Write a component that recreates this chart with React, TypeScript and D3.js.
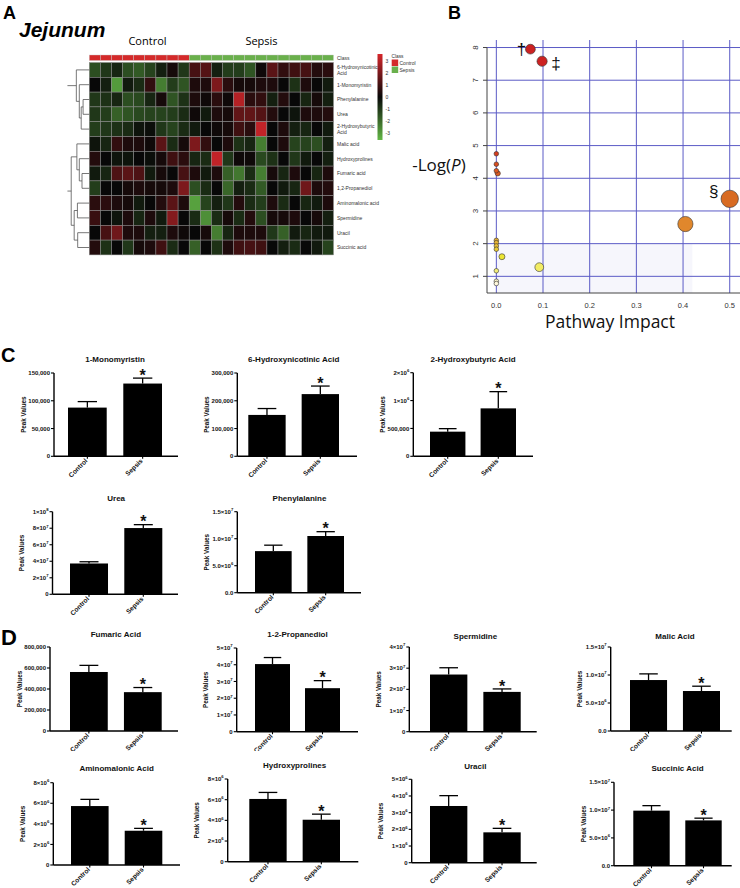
import React from "react";
import * as d3 from "d3";

const SANS = "'Liberation Sans', Arial, Helvetica, sans-serif";
const HUMAN = "'Open Sans', 'Noto Sans', sans-serif";

// ---------------- Panel A data ----------------
const heatRowLabels = [
  "6-Hydroxynicotinic\nAcid", "1-Monomyristin", "Phenylalanine", "Urea", "2-Hydroxybutyric\nAcid",
  "Malic acid", "Hydroxyprolines", "Fumaric acid", "1,2-Propanediol", "Aminomalonic acid",
  "Spermidine", "Uracil", "Succinic acid",
];
const heatClasses = [
  "Control", "Control", "Control", "Control", "Control", "Control", "Control", "Control", "Control",
  "Sepsis", "Sepsis", "Sepsis", "Sepsis", "Sepsis", "Sepsis", "Sepsis", "Sepsis", "Sepsis", "Sepsis", "Sepsis", "Sepsis", "Sepsis",
];
const heatValues: number[][] = [
  [-1.2, -0.8, -0.5, -1.2, -1.4, -1.0, -0.4, 0.2, -0.8, 0.9, 1.1, -0.4, -0.9, -0.9, -1.3, 0.1, 1.2, 0.6, 0.8, 0.9, 0.4, 0.5],
  [0, -0.4, -2.5, -0.3, -0.6, 0.6, -2.0, -0.9, -1.3, 0.3, 0.3, 1.7, 0.5, 0.2, 0.2, 0.3, 0.3, 0, -0.7, 0.3, 0, -0.3],
  [-0.8, -0.7, -0.5, -1.2, -1.1, -0.5, 0.2, -1.3, -0.7, 0.3, 0.1, 0.5, 0.1, 2.5, 0.5, 0.6, -0.4, 0.4, 0, -0.5, 0.2, -0.4],
  [-0.8, -0.9, -1.5, -1.3, -1.1, -1.0, -1.0, -0.9, -0.6, 0.1, -0.3, 0.3, 0.2, 1.3, 1.3, 1.1, 0.4, 0, -0.2, 0.3, 0.3, 0.4],
  [-0.9, -0.8, -0.7, -0.6, -0.2, -0.1, -0.8, -1.0, -0.6, -0.3, 0, 0.1, 0.2, 0.8, 0.5, 2.7, 0, 0.3, -0.4, -0.5, 0, -0.3],
  [-0.2, -0.5, 0.6, 0.3, 0.3, 0.1, 1.2, -0.6, 0.2, 1.7, 0.6, 0, 0.3, -0.7, -0.5, -2.0, 0, 0.3, -1.0, -1.0, -1.2, -0.4],
  [0.4, 0, -0.2, -0.2, 0, -0.1, 0.2, 0.8, 0.5, -0.5, -0.6, 2.7, -0.8, 0.1, 0.1, -1.1, -0.7, 0, -0.8, -0.3, 0, -0.4],
  [-0.3, -0.5, 1.0, 1.2, 1.0, -0.3, 0.2, 0, 0.9, 0.3, -0.3, 0.3, -1.5, -1.9, -0.6, -2.0, 0.2, -0.5, 0.3, 0, -0.5, 0.3],
  [-0.9, 0, 0, 0.2, 0.3, 0.2, 0.2, 0.3, 1.7, -1.2, -0.6, 0, -1.6, -0.4, -0.6, -1.4, 0, -0.3, -0.5, 1.5, 0.3, 0.4],
  [0.5, 0.5, 0.3, 0.2, -0.3, 0, 0.4, 1.2, 0.3, -2.6, -1.0, -0.4, -0.8, 0.4, -0.6, -0.9, 0.3, -0.6, 0, -0.5, -0.3, 0.3],
  [0.7, 0, -0.2, 0.3, -0.5, 0.3, -0.3, 1.8, 0, -0.6, -2.3, -0.6, 0.2, -0.6, 0.4, -1.2, 0.2, 0.2, 0.3, 0, 0.2, -0.4],
  [0, 0.9, 1.5, 0.3, 0.3, -0.4, -0.4, 0.3, 0.1, 0, 0.2, -2.0, -0.5, 0.3, 0.3, 0.3, -0.8, -1.5, -0.3, -0.5, -0.3, -0.3],
  [0.4, -0.7, 0, -0.8, 0.2, 0.3, 0.8, -0.6, 0, -1.5, 0, -0.7, 0.3, 0.8, 0.9, 0.8, 0, -0.4, -0.6, 0, -0.3, -1.0],
];
const legendTicks = [3, 2, 1, 0, -1, -2, -3];
type DNode = number | { h: number; c: [DNode, DNode] };
const dendroTop: DNode = { h: 0.48, c: [0, { h: 0.37, c: [1, { h: 0.3, c: [{ h: 0.23, c: [2, 3] }, 4] }] }] };
const dendroBottom: DNode = {
  h: 0.67,
  c: [
    { h: 0.46, c: [5, { h: 0.37, c: [6, { h: 0.27, c: [7, 8] }] }] },
    { h: 0.56, c: [{ h: 0.44, c: [9, 10] }, { h: 0.43, c: [11, 12] }] },
  ],
};
const dendroRootH = 0.81;

// ---------------- Panel B data ----------------
const pathImpact = [0.073, 0.098, 0.0, 0.0, 0.0, 0.003, 0.5, 0.405, 0.0, 0.0, 0.0, 0.0, 0.012, 0.092, 0.0, 0.0, 0.0];
const pathLogP = [7.95, 7.58, 4.75, 4.43, 4.23, 4.15, 3.37, 2.6, 2.1, 2.03, 1.93, 1.83, 1.6, 1.28, 1.17, 0.85, 0.78];
const pathSize = [4.9, 5.1, 2.3, 2.3, 2.3, 2.6, 8.7, 7.6, 2.3, 2.3, 2.3, 2.3, 3.0, 4.4, 2.3, 2.3, 2.3];
const pathMarkIdx = [0, 1, 6];
const pathMarkSym = ["\u2020", "\u2021", "\u00a7"];
const bXTicks = [0, 0.1, 0.2, 0.3, 0.4, 0.5];
const bYTicks = [1, 2, 3, 4, 5, 6, 7, 8];

// ---------------- Panels C/D data ----------------
const groups = ["Control", "Sepsis"];
const barTitles = [
  "1-Monomyristin", "6-Hydroxynicotinic Acid", "2-Hydroxybutyric Acid", "Urea", "Phenylalanine",
  "Fumaric Acid", "1-2-Propanediol", "Spermidine", "Malic Acid",
  "Aminomalonic Acid", "Hydroxyprolines", "Uracil", "Succinic Acid",
];
const controlMean = [87700, 149000, 442000, 37.3e6, 7.7e6, 562000, 4.04e7, 2.7e7, 9.1e6, 5.73e6, 6.07e6, 3.4e6, 9.9e6];
const controlSem = [10800, 23000, 54000, 2.1e6, 1.1e6, 63000, 0.39e7, 0.32e7, 1.1e6, 0.65e6, 0.63e6, 0.62e6, 0.9e6];
const sepsisMean = [131000, 224000, 860000, 80.2e6, 10.5e6, 370000, 2.6e7, 1.88e7, 7.14e6, 3.33e6, 4.06e6, 1.82e6, 8.15e6];
const sepsisSem = [9800, 29000, 300000, 4.1e6, 0.8e6, 44000, 0.45e7, 0.14e7, 0.86e6, 0.23e6, 0.54e6, 0.24e6, 0.4e6];
const barYMax = [150000, 300000, 1.5e6, 1e8, 1.5e7, 800000, 5e7, 4e7, 1.5e7, 8e6, 8e6, 5e6, 1.5e7];
const barTickValues: number[][] = [
  [0, 50000, 100000, 150000],
  [0, 100000, 200000, 300000],
  [0, 500000, 1e6, 1.5e6],
  [0, 2e7, 4e7, 6e7, 8e7, 1e8],
  [0, 5e6, 1e7, 1.5e7],
  [0, 200000, 400000, 600000, 800000],
  [0, 1e7, 2e7, 3e7, 4e7, 5e7],
  [0, 1e7, 2e7, 3e7, 4e7],
  [0, 5e6, 1e7, 1.5e7],
  [0, 2e6, 4e6, 6e6, 8e6],
  [0, 2e6, 4e6, 6e6, 8e6],
  [0, 1e6, 2e6, 3e6, 4e6, 5e6],
  [0, 5e6, 1e7, 1.5e7],
];
const barTickLabels: string[][] = [
  ["0", "50,000", "100,000", "150,000"],
  ["0", "100,000", "200,000", "300,000"],
  ["0", "500,000", "1\u00d710^6", "2\u00d710^6"],
  ["0", "2\u00d710^7", "4\u00d710^7", "6\u00d710^7", "8\u00d710^7", "1\u00d710^8"],
  ["0.0", "5.0\u00d710^6", "1.0\u00d710^7", "1.5\u00d710^7"],
  ["0", "200,000", "400,000", "600,000", "800,000"],
  ["0", "1\u00d710^7", "2\u00d710^7", "3\u00d710^7", "4\u00d710^7", "5\u00d710^7"],
  ["0", "1\u00d710^7", "2\u00d710^7", "3\u00d710^7", "4\u00d710^7"],
  ["0.0", "5.0\u00d710^6", "1.0\u00d710^7", "1.5\u00d710^7"],
  ["0", "2\u00d710^6", "4\u00d710^6", "6\u00d710^6", "8\u00d710^6"],
  ["0", "2\u00d710^6", "4\u00d710^6", "6\u00d710^6", "8\u00d710^6"],
  ["0", "1\u00d710^6", "2\u00d710^6", "3\u00d710^6", "4\u00d710^6", "5\u00d710^6"],
  ["0.0", "5.0\u00d710^6", "1.0\u00d710^7", "1.5\u00d710^7"],
];

// layout (pixel frames for each small chart)
const barLayouts = [
  { ax: 54, top: 373, bot: 456.3, xEnd: 178, bl: 68, br: 162, ty: 359, clip: false },
  { ax: 237.3, top: 373, bot: 456.3, xEnd: 357, bl: 248.3, br: 339, ty: 359, clip: false },
  { ax: 413.3, top: 372.7, bot: 456.3, xEnd: 533, bl: 430, br: 516, ty: 359, clip: false },
  { ax: 52.5, top: 511.7, bot: 594.3, xEnd: 178, bl: 70, br: 162.3, ty: 497.7, clip: false },
  { ax: 237.3, top: 511.7, bot: 592.7, xEnd: 361, bl: 255, br: 344, ty: 497.7, clip: false },
  { ax: 50, top: 647, bot: 731, xEnd: 178, bl: 70, br: 161.7, ty: 634, clip: true },
  { ax: 236.7, top: 648, bot: 731.7, xEnd: 358, bl: 255, br: 340, ty: 634, clip: true },
  { ax: 409.3, top: 647, bot: 731.7, xEnd: 536.7, bl: 430, br: 520.7, ty: 635.7, clip: true },
  { ax: 610.7, top: 647, bot: 731, xEnd: 731.7, bl: 630, br: 720, ty: 635.7, clip: true },
  { ax: 53.3, top: 782.7, bot: 865, xEnd: 180, bl: 71, br: 162.3, ty: 768.3, clip: false },
  { ax: 227.7, top: 779, bot: 861.7, xEnd: 358.3, bl: 249.3, br: 340, ty: 765, clip: false },
  { ax: 411.7, top: 779.3, bot: 862.7, xEnd: 536.7, bl: 430, br: 520.7, ty: 766, clip: false },
  { ax: 614, top: 782.3, bot: 865.7, xEnd: 731.7, bl: 633.3, br: 721.7, ty: 768.3, clip: false },
];

// ---------------- helpers ----------------
function SupText(props: { x: number; y: number; label: string; fs: number; anchor?: string; weight?: string; fill?: string }) {
  const { x, y, label, fs, anchor = "end", weight = "bold", fill = "#111" } = props;
  const i = label.indexOf("^");
  const main = i < 0 ? label : label.slice(0, i);
  const sup = i < 0 ? "" : label.slice(i + 1);
  return (
    <text x={x} y={y} fontSize={fs} textAnchor={anchor as any} fontWeight={weight} fill={fill} fontFamily={SANS}>
      {main}
      {sup && (
        <tspan dy={-fs * 0.45} fontSize={fs * 0.7}>
          {sup}
        </tspan>
      )}
    </text>
  );
}

// ---------------- Panel A ----------------
function PanelA() {
  const nCols = heatClasses.length;
  const nRows = heatRowLabels.length;
  const cellsLeft = 89.3;
  const cellsTop = 62.5;
  const xs = d3.scaleBand<number>().domain(d3.range(nCols)).range([cellsLeft, cellsLeft + nCols * 11.1]);
  const ys = d3.scaleBand<number>().domain(d3.range(nRows)).range([cellsTop, cellsTop + nRows * 14.8]);
  const color = d3.scaleLinear<string>().domain([-3, 0, 3]).range(["#63b846", "#080808", "#d6262b"]);
  const classColor = (c: string) => (c === "Control" ? "#d42a2a" : "#6ab04c");
  const right = cellsLeft + nCols * 11.1;
  const dx = d3.scaleLinear().domain([0, 1]).range([cellsLeft, cellsLeft - 27]);

  const lines: { x1: number; y1: number; x2: number; y2: number }[] = [];
  const layout = (n: DNode): { x: number; y: number } => {
    if (typeof n === "number") return { x: cellsLeft, y: (ys(n) as number) + ys.bandwidth() / 2 };
    const a = layout(n.c[0]);
    const b = layout(n.c[1]);
    const x = dx(n.h);
    lines.push({ x1: x, y1: a.y, x2: x, y2: b.y });
    lines.push({ x1: x, y1: a.y, x2: a.x, y2: a.y });
    lines.push({ x1: x, y1: b.y, x2: b.x, y2: b.y });
    return { x, y: (a.y + b.y) / 2 };
  };
  const tTop = layout(dendroTop);
  const tBot = layout(dendroBottom);
  lines.push({ x1: dx(dendroRootH), y1: tTop.y, x2: tTop.x, y2: tTop.y });
  lines.push({ x1: dx(dendroRootH), y1: tBot.y, x2: tBot.x, y2: tBot.y });

  const legendY = d3.scaleLinear().domain([3, -3]).range([61, 133.3]);

  return (
    <g>
      <text x={3} y={19} fontSize={18} fontWeight="bold" fontFamily={SANS}>A</text>
      <text x={19} y={37} fontSize={21} fontWeight="bold" fontStyle="italic" fontFamily={SANS}>Jejunum</text>
      <text x={147.5} y={45} fontSize={11} textAnchor="middle" fontFamily={HUMAN}>Control</text>
      <text x={261.5} y={45} fontSize={11} textAnchor="middle" fontFamily={HUMAN}>Sepsis</text>
      {heatClasses.map((c, j) => (
        <rect key={"cl" + j} x={xs(j)} y={55} width={xs.bandwidth()} height={5.5} fill={classColor(c)} stroke="#c8c8c8" strokeWidth={0.4} />
      ))}
      {heatValues.map((row, i) =>
        row.map((v, j) => (
          <rect key={i + "-" + j} x={xs(j)} y={ys(i)} width={xs.bandwidth()} height={ys.bandwidth()} fill={color(v)} stroke="#8d8d8d" strokeWidth={0.5} />
        ))
      )}
      {lines.map((l, k) => (
        <line key={"d" + k} {...l} stroke="#555" strokeWidth={0.8} />
      ))}
      <text x={right + 3.5} y={59.5} fontSize={5} fontFamily={SANS} fill="#333">Class</text>
      {heatRowLabels.map((lab, i) => {
        const parts = lab.split("\n");
        const cy = (ys(i) as number) + ys.bandwidth() / 2;
        return (
          <text key={"rl" + i} x={right + 3.5} y={cy + 1.8 - (parts.length - 1) * 3.2} fontSize={5} fontFamily={SANS} fill="#333">
            {parts.map((p, k) => (
              <tspan key={k} x={right + 3.5} dy={k === 0 ? 0 : 6.4}>{p}</tspan>
            ))}
          </text>
        );
      })}
      <defs>
        <linearGradient id="hmGrad" x1="0" y1="0" x2="0" y2="1">
          <stop offset="0%" stopColor={color(3)} />
          <stop offset="50%" stopColor={color(0)} />
          <stop offset="100%" stopColor={color(-3)} />
        </linearGradient>
      </defs>
      <rect x={377.5} y={54} width={5} height={86} fill="url(#hmGrad)" />
      {legendTicks.map((t) => (
        <text key={"lt" + t} x={385.5} y={legendY(t) + 1.8} fontSize={5} fontFamily={SANS} fill="#333">{t}</text>
      ))}
      <text x={391.5} y={58} fontSize={4.8} fontFamily={SANS} fill="#333">Class</text>
      <rect x={391.7} y={59.5} width={6.5} height={6.5} fill={classColor("Control")} />
      <rect x={391.7} y={66.5} width={6.5} height={6.5} fill={classColor("Sepsis")} />
      <text x={399.5} y={64.5} fontSize={5} fontFamily={SANS} fill="#333">Control</text>
      <text x={399.5} y={71.5} fontSize={5} fontFamily={SANS} fill="#333">Sepsis</text>
    </g>
  );
}

// ---------------- Panel B ----------------
function PanelB() {
  const bx = d3.scaleLinear().domain([-0.02, 0.522]).range([487, 740]);
  const by = d3.scaleLinear().domain([0.49, 8.23]).range([293, 40]);
  const pc = d3
    .scaleLinear<string>()
    .domain([0.78, 1.2, 1.6, 2.0, 2.6, 3.4, 4.2, 4.8, 7.6])
    .range(["#fff8dc", "#f3ee70", "#ece534", "#e8b634", "#e0872c", "#d86a22", "#dc5a22", "#d23a20", "#cc2222"])
    .clamp(true);
  const idx = d3.range(pathImpact.length).sort((a, b) => pathSize[b] - pathSize[a]);
  const markOffset = [
    { dx: -9, dy: 6 },
    { dx: 14, dy: 8 },
    { dx: -16, dy: -2 },
  ];
  return (
    <g>
      <text x={448} y={19} fontSize={18} fontWeight="bold" fontFamily={SANS}>B</text>
      <rect x={bx(0)} y={by(2)} width={bx(0.42) - bx(0)} height={293 - by(2)} fill="#f6f6fc" />
      {bXTicks.map((t) => (
        <line key={"gx" + t} x1={bx(t)} x2={bx(t)} y1={40} y2={293} stroke="#5b5bc6" strokeWidth={1} />
      ))}
      {bYTicks.map((t) => (
        <line key={"gy" + t} x1={487} x2={740} y1={by(t)} y2={by(t)} stroke="#5b5bc6" strokeWidth={1} />
      ))}
      <line x1={487} x2={487} y1={by(8)} y2={293} stroke="#444" strokeWidth={1} />
      <line x1={487} x2={740} y1={293} y2={293} stroke="#444" strokeWidth={1} />
      {bYTicks.map((t) => (
        <g key={"ty" + t}>
          <line x1={483} x2={487} y1={by(t)} y2={by(t)} stroke="#444" strokeWidth={1} />
          <text transform={`translate(${478},${by(t)}) rotate(-90)`} fontSize={8} textAnchor="middle" fontFamily={SANS} fill="#333">{t}</text>
        </g>
      ))}
      {bXTicks.map((t) => (
        <text key={"tx" + t} x={bx(t)} y={307.5} fontSize={7.5} textAnchor="middle" fontFamily={SANS} fill="#333">{t.toFixed(1)}</text>
      ))}
      {idx.map((i) => (
        <circle key={"p" + i} cx={bx(pathImpact[i])} cy={by(pathLogP[i])} r={pathSize[i]} fill={pc(pathLogP[i])} stroke="#333" strokeWidth={0.6} />
      ))}
      {pathMarkIdx.map((i, k) => (
        <text key={"m" + k} x={bx(pathImpact[i]) + markOffset[k].dx} y={by(pathLogP[i]) + markOffset[k].dy} fontSize={17} textAnchor="middle" fontFamily={SANS} fill="#111">
          {pathMarkSym[k]}
        </text>
      ))}
      <text x={439} y={171} fontSize={17} textAnchor="middle" fontFamily={HUMAN} fill="#111">
        -Log(<tspan fontStyle="italic">P</tspan>)
      </text>
      <text x={610} y={328} fontSize={17.5} textAnchor="middle" fontFamily={HUMAN} fill="#111">Pathway Impact</text>
    </g>
  );
}

// ---------------- Bar charts ----------------
function BarChart({ i }: { i: number }) {
  const lay = barLayouts[i];
  const y = d3.scaleLinear().domain([0, barYMax[i]]).range([lay.bot, lay.top]);
  const x = d3.scaleBand<string>().domain(groups).range([lay.bl, lay.br]).paddingInner(0.3).paddingOuter(0);
  const bw = x.bandwidth();
  const means = [controlMean[i], sepsisMean[i]];
  const sems = [controlSem[i], sepsisSem[i]];
  const sx = (x("Sepsis") as number) + bw / 2;
  const sTop = y(sepsisMean[i] + sepsisSem[i]);
  return (
    <g>
      <text x={(lay.bl + lay.br) / 2} y={lay.ty + 3} fontSize={8} fontWeight="bold" textAnchor="middle" fontFamily={SANS} fill="#111">
        {barTitles[i]}
      </text>
      {groups.map((g, k) => {
        const cx = (x(g) as number) + bw / 2;
        const top = y(means[k] + sems[k]);
        return (
          <g key={g}>
            <rect x={x(g)} y={y(means[k])} width={bw} height={lay.bot - y(means[k])} fill="#000" />
            <line x1={cx} x2={cx} y1={y(means[k])} y2={top} stroke="#000" strokeWidth={1.3} />
            <line x1={cx - bw / 4} x2={cx + bw / 4} y1={top} y2={top} stroke="#000" strokeWidth={1.3} />
          </g>
        );
      })}
      <line x1={lay.ax} x2={lay.ax} y1={lay.top} y2={lay.bot} stroke="#000" strokeWidth={1.4} />
      <line x1={lay.ax} x2={lay.xEnd} y1={lay.bot} y2={lay.bot} stroke="#000" strokeWidth={1.4} />
      {barTickValues[i].map((t, k) => (
        <g key={"t" + k}>
          <line x1={lay.ax - 3} x2={lay.ax} y1={y(t)} y2={y(t)} stroke="#000" strokeWidth={1.1} />
          <SupText x={lay.ax - 4} y={y(t) + 2.1} label={barTickLabels[i][k]} fs={6} />
        </g>
      ))}
      <text transform={`translate(${lay.ax - 28.5},${(lay.top + lay.bot) / 2}) rotate(-90)`} fontSize={6.3} fontWeight="bold" textAnchor="middle" fontFamily={SANS} fill="#111">
        Peak Values
      </text>
      <g clipPath={lay.clip ? "url(#rowClip)" : undefined}>
        {groups.map((g) => {
          const cx = (x(g) as number) + bw / 2;
          return (
            <g key={"xl" + g}>
              <line x1={cx} x2={cx} y1={lay.bot} y2={lay.bot + 2.5} stroke="#000" strokeWidth={1.1} />
              <text transform={`translate(${cx + 0.5},${lay.bot + 5}) rotate(-45)`} fontSize={6.6} fontWeight="bold" textAnchor="end" fontFamily={SANS} fill="#111">
                {g}
              </text>
            </g>
          );
        })}
      </g>
      <text x={sx} y={sTop + 2.6} fontSize={16} fontWeight="bold" textAnchor="middle" fontFamily={SANS} fill="#111">*</text>
    </g>
  );
}

export default function App() {
  return (
    <svg width={740} height={888} style={{ position: "absolute", left: 0, top: 0, background: "#fff" }}>
      <defs>
        <clipPath id="rowClip">
          <rect x={0} y={0} width={740} height={751} />
        </clipPath>
      </defs>
      <rect x={0} y={0} width={740} height={888} fill="#fff" />
      <PanelA />
      <PanelB />
      <text x={1} y={362} fontSize={20} fontWeight="bold" fontFamily={SANS}>C</text>
      <text x={1} y={645} fontSize={22} fontWeight="bold" fontFamily={SANS}>D</text>
      {barTitles.map((_, i) => (
        <BarChart key={i} i={i} />
      ))}
    </svg>
  );
}
